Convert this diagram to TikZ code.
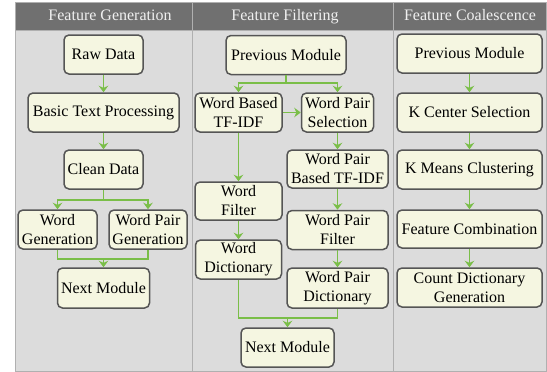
\documentclass[tikz,border=0pt]{standalone}
\usepackage{fontspec}
\setmainfont{Liberation Serif}
\newfontfamily\diagfont{Liberation Serif}
\usetikzlibrary{arrows.meta}
\definecolor{boxfill}{RGB}{245,246,225}
\definecolor{boxline}{RGB}{85,85,85}
\definecolor{flow}{RGB}{122,190,72}
\definecolor{panel}{RGB}{220,220,220}
\definecolor{headfill}{RGB}{112,112,112}
\definecolor{rule}{RGB}{176,176,176}
\begin{document}
\begin{tikzpicture}[x=1pt, y=-1pt,
    font=\diagfont\fontsize{16}{19}\selectfont,
    stage/.style={draw=boxline, line width=1.5pt, fill=boxfill, rounded corners=5pt,
      align=center, inner sep=1pt, minimum height=39pt},
    head/.style={text=white!94!black, text height=11pt, text depth=3.5pt, inner sep=0pt},
    link/.style={flow, line width=1.3pt},
    flowarrow/.style={link, -{Stealth[length=6.5pt,width=9.5pt]}}]
		\useasboundingbox (0,0) rectangle (547,372);
		% panels
		\fill[panel] (15,30) rectangle (546,371);
		\fill[headfill] (15,2) rectangle (546,30);
		\draw[rule, line width=1pt] (192,2) -- (192,371);
		\draw[rule, line width=1pt] (393,2) -- (393,371);
		\draw[rule, line width=1pt] (15,30) -- (546,30);
		\draw[rule, line width=1pt] (15,2) rectangle (546,371);
		\node[head] (hgen) at (110,17) {Feature Generation};
		\node[head] (hfilt) at (285,17) {Feature Filtering};
		\node[head] (hcoal) at (470,17) {Feature Coalescence};
		% feature generation
		\node[stage, minimum width=79pt] (raw) at (103.5,54.5) {Raw Data};
		\node[stage, minimum width=151pt] (btp) at (103.5,112.5) {Basic Text Processing};
		\node[stage, minimum width=79pt] (clean) at (103.5,169.5) {Clean Data};
		\node[stage, minimum width=79pt] (wgen) at (57.5,229.5) {Word\\Generation};
		\node[stage, minimum width=78pt] (wpgen) at (148,229.5) {Word Pair\\Generation};
		\node[stage, minimum width=92pt, minimum height=40pt] (next1) at (103.5,288) {Next Module};
		\draw[flowarrow] (raw) -- (btp);
		\draw[flowarrow] (btp) -- (clean);
		\coordinate (s1) at (103.5,200);
		\draw[link] (clean.south) -- (s1);
		\draw[flowarrow] (s1) -| (wgen.north);
		\draw[flowarrow] (s1) -| (wpgen.north);
		\coordinate (j1) at (103.5,259);
		\draw[link] (wgen.south) |- (j1) -| (wpgen.south);
		\draw[flowarrow] (j1) -- (next1.north);
		% feature filtering
		\node[stage, minimum width=120pt] (prev2) at (286,55) {Previous Module};
		\node[stage, minimum width=87pt] (wbased) at (238.5,112.5) {Word Based\\TF-IDF};
		\node[stage, minimum width=72pt] (wpsel) at (337.5,112.5) {Word Pair\\Selection};
		\node[stage, minimum width=101pt, minimum height=38pt] (wptfidf) at (337.5,169) {Word Pair\\Based TF-IDF};
		\node[stage, minimum width=87pt, minimum height=38pt] (wfilter) at (238.5,201) {Word\\Filter};
		\node[stage, minimum width=101pt] (wpfilter) at (337.5,230) {Word Pair\\Filter};
		\node[stage, minimum width=86pt] (wdict) at (238.5,259.5) {Word\\Dictionary};
		\node[stage, minimum width=101pt, minimum height=40pt] (wpdict) at (337.5,288) {Word Pair\\Dictionary};
		\node[stage, minimum width=93pt] (next2) at (287.5,347.5) {Next Module};
		\coordinate (s2) at (286,83);
		\draw[link] (prev2.south) -- (s2);
		\draw[flowarrow] (s2) -| (wbased.north);
		\draw[flowarrow] (s2) -| (wpsel.north);
		\draw[flowarrow] (wbased.east) -- (wpsel.west);
		\draw[flowarrow] (wbased.south) -- (wfilter.north);
		\draw[flowarrow] (wfilter.south) -- (wdict.north);
		\draw[flowarrow] (wpsel.south) -- (wptfidf.north);
		\draw[flowarrow] (wptfidf.south) -- (wpfilter.north);
		\draw[flowarrow] (wpfilter.south) -- (wpdict.north);
		\coordinate (j2) at (287.5,318);
		\draw[link] (wdict.south) |- (j2) -| (wpdict.south);
		\draw[flowarrow] (j2) -- (next2.north);
		% feature coalescence
		\node[stage, minimum width=145pt] (prev3) at (469.5,53.5) {Previous Module};
		\node[stage, minimum width=145pt] (kcenter) at (469.5,112.5) {K Center Selection};
		\node[stage, minimum width=145pt] (kmeans) at (469.5,169.5) {K Means Clustering};
		\node[stage, minimum width=145pt, minimum height=38pt] (fcomb) at (469.5,229) {Feature Combination};
		\node[stage, minimum width=145pt] (cdict) at (469.5,287.5) {Count Dictionary\\Generation};
		\draw[flowarrow] (prev3) -- (kcenter);
		\draw[flowarrow] (kcenter) -- (kmeans);
		\draw[flowarrow] (kmeans) -- (fcomb);
		\draw[flowarrow] (fcomb) -- (cdict);
		\end{tikzpicture}
\end{document}
